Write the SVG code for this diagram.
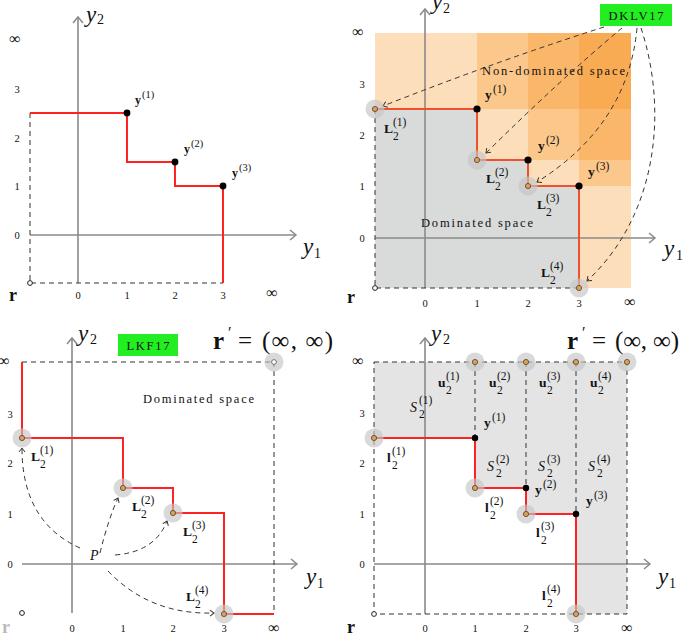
<svg xmlns="http://www.w3.org/2000/svg" width="685" height="633" viewBox="0 0 685 633">
<style>
text{font-family:"Liberation Serif","DejaVu Serif",serif;fill:#111}
.tk{font-size:10.5px;text-anchor:middle}
.inf{font-size:16px;text-anchor:middle}
.ax{font-style:italic;font-size:23px}
.axs{font-size:14px}
.b{font-weight:bold}
.lab{font-size:13.5px;font-weight:bold}
.lab1{font-size:12px;font-weight:bold}
.sup{font-size:11.5px}
.sup1{font-size:10.5px}
.it{font-style:italic;font-size:14px}
.sp{font-size:12.5px}
.axis{stroke:#8a8a8a;stroke-width:1.6;fill:none;marker-end:url(#ga)}
.red{stroke:#ff2222;stroke-width:2;fill:none}
.red2{stroke:#ee5030;stroke-width:2;fill:none}
.dash{stroke:#333;stroke-width:1;stroke-dasharray:5 4;fill:none}
.arr{stroke:#333;stroke-width:1;stroke-dasharray:5 4;fill:none;marker-end:url(#ka)}
.halo{fill:#c4c4c4;fill-opacity:0.65}
.pt{fill:#d9a05e;stroke:#5a4020;stroke-width:0.8}
.wp{fill:#fff;stroke:#666;stroke-width:0.9}
.blk{fill:#000}
.org{fill:#f7931e;fill-opacity:0.3}
.grn{fill:#22ee22}
</style>
<defs>
<marker id="ga" viewBox="-8 -6 10 12" markerWidth="10" markerHeight="12" refX="0" refY="0" orient="auto" markerUnits="userSpaceOnUse">
<path d="M-6,-5 L0,0 L-6,5" fill="none" stroke="#8a8a8a" stroke-width="1.5"/>
</marker>
<marker id="ka" viewBox="-6 -4 7 8" markerWidth="7" markerHeight="8" refX="0" refY="0" orient="auto" markerUnits="userSpaceOnUse">
<path d="M-4,-3 L0,0 L-4,3" fill="none" stroke="#333" stroke-width="1"/>
</marker>
</defs>
<rect width="685" height="633" fill="#fff"/>

<!-- Panel 1 -->
<g id="panel1">
<g id="p1-axes">
<path class="axis" d="M78 283 V17"/>
<path class="axis" d="M30 235 H296"/>
</g>
<g id="p1-connectors">
<path class="dash" d="M30 113 V283 H223"/>
<path class="red" d="M30 113 H127 V162 H175 V186 H223 V283"/>
</g>
<g id="p1-y1"><circle class="blk" cx="127" cy="113" r="3.4"/><text class="lab1" x="135" y="104">y</text><text class="sup1" x="142" y="98">(1)</text></g>
<g id="p1-y2"><circle class="blk" cx="175" cy="162" r="3.4"/><text class="lab1" x="184" y="153">y</text><text class="sup1" x="191" y="147">(2)</text></g>
<g id="p1-y3"><circle class="blk" cx="223" cy="186" r="3.4"/><text class="lab1" x="232" y="177">y</text><text class="sup1" x="239" y="171">(3)</text></g>
<g id="p1-r"><circle cx="30" cy="283" r="2.4" fill="#fff" stroke="#222" stroke-width="1"/><text class="b" font-size="18" x="9" y="301">r</text></g>
<g id="p1-labels">
<text class="ax" x="86" y="22">y</text><text class="axs" x="97" y="24">2</text>
<text class="ax" x="303" y="254">y</text><text class="axs" x="314" y="258">1</text>
<text class="inf" x="15" y="44">∞</text><text class="inf" x="272" y="298">∞</text>
<text class="tk" x="17" y="93">3</text><text class="tk" x="17" y="142">2</text><text class="tk" x="17" y="190">1</text><text class="tk" x="17" y="239">0</text>
<text class="tk" x="78" y="299">0</text><text class="tk" x="127" y="299">1</text><text class="tk" x="175" y="299">2</text><text class="tk" x="223" y="299">3</text>
</g>
</g>

<!-- Panel 2 -->
<g id="panel2">
<g id="p2-regions">
<rect class="org" x="375" y="33" width="256" height="255"/>
<rect class="org" x="477" y="33" width="154" height="76"/>
<rect class="org" x="528" y="33" width="103" height="127"/>
<rect class="org" x="579" y="33" width="52" height="153"/>
<path d="M375 109 H477 V160 H528 V186 H579 V288 H375 Z" fill="#d9dada"/>
</g>
<g id="p2-axes">
<path class="axis" d="M425 288 V9"/>
<path class="axis" d="M375 238 H655"/>
</g>
<g id="p2-connectors">
<path class="dash" d="M375 109 V288 H579"/>
<path class="red2" d="M375 109 H477 V160 H528 V186 H579 V288"/>
<path class="arr" d="M604 27 Q500 60 383 106"/>
<path class="arr" d="M622 28 Q562 78 486 153"/>
<path class="arr" d="M637 28 Q628 125 537 182"/>
<path class="arr" d="M641 28 C668 110 658 215 587 281"/>
</g>
<g id="p2-L1"><circle class="halo" cx="375" cy="109" r="9.5"/><circle class="pt" cx="375" cy="109" r="2.6"/><text class="lab" x="384" y="133">L</text><text class="sup" x="393" y="140">2</text><text class="sup" x="393" y="126">(1)</text></g>
<g id="p2-L2"><circle class="halo" cx="477" cy="160" r="9.5"/><circle class="pt" cx="477" cy="160" r="2.6"/><text class="lab" x="486" y="183">L</text><text class="sup" x="495" y="190">2</text><text class="sup" x="495" y="176">(2)</text></g>
<g id="p2-L3"><circle class="halo" cx="528" cy="186" r="9.5"/><circle class="pt" cx="528" cy="186" r="2.6"/><text class="lab" x="537" y="209">L</text><text class="sup" x="546" y="216">2</text><text class="sup" x="546" y="202">(3)</text></g>
<g id="p2-L4"><circle class="halo" cx="579" cy="288" r="9.5"/><circle class="pt" cx="579" cy="288" r="2.6"/><text class="lab" x="541" y="277">L</text><text class="sup" x="550" y="284">2</text><text class="sup" x="550" y="270">(4)</text></g>
<g id="p2-y1"><circle class="blk" cx="477" cy="109" r="3.6"/><text class="lab" x="485" y="99">y</text><text class="sup" x="493" y="93">(1)</text></g>
<g id="p2-y2"><circle class="blk" cx="528" cy="160" r="3.6"/><text class="lab" x="538" y="150">y</text><text class="sup" x="546" y="144">(2)</text></g>
<g id="p2-y3"><circle class="blk" cx="579" cy="186" r="3.6"/><text class="lab" x="588" y="176">y</text><text class="sup" x="596" y="170">(3)</text></g>
<g id="p2-r"><circle cx="375" cy="288" r="2.4" fill="#fff" stroke="#222" stroke-width="1"/><text class="b" font-size="18" x="347" y="303">r</text></g>
<g id="p2-DKLV17"><rect class="grn" x="600" y="4" width="72" height="22"/><text x="636" y="20" font-size="12.5" text-anchor="middle" textLength="55" lengthAdjust="spacing">DKLV17</text></g>
<g id="p2-labels">
<text class="sp" x="482" y="75" textLength="143" lengthAdjust="spacing">Non-dominated space</text>
<text class="sp" x="421" y="227" textLength="112" lengthAdjust="spacing">Dominated space</text>
<text class="ax" x="432" y="9">y</text><text class="axs" x="443" y="13">2</text>
<text class="ax" x="664" y="256">y</text><text class="axs" x="676" y="260">1</text>
<text class="inf" x="358" y="37">∞</text><text class="inf" x="630" y="307">∞</text>
<text class="tk" x="362" y="88">3</text><text class="tk" x="362" y="139">2</text><text class="tk" x="362" y="190">1</text><text class="tk" x="362" y="242">0</text>
<text class="tk" x="425" y="307">0</text><text class="tk" x="477" y="307">1</text><text class="tk" x="528" y="307">2</text><text class="tk" x="579" y="307">3</text>
</g>
</g>

<!-- Panel 3 -->
<g id="panel3">
<g id="p3-axes">
<path class="axis" d="M72 613 V338"/>
<path class="axis" d="M22 564 H297"/>
</g>
<g id="p3-connectors">
<path class="dash" d="M22 362 H274 V614"/>
<path class="red" d="M22 362 V438 H123 V488 H173 V513 H224 V614 H274"/>
<path class="arr" d="M80 548 Q22 522 22 448"/>
<path class="arr" d="M100 553 Q108 520 118 498"/>
<path class="arr" d="M115 555 Q155 552 167 521"/>
<path class="arr" d="M108 571 Q150 615 214 613"/>
</g>
<g id="p3-L1"><circle class="halo" cx="22" cy="438" r="9.5"/><circle class="pt" cx="22" cy="438" r="2.6"/><text class="lab" x="31" y="461">L</text><text class="sup" x="40" y="468">2</text><text class="sup" x="40" y="454">(1)</text></g>
<g id="p3-L2"><circle class="halo" cx="123" cy="488" r="9.5"/><circle class="pt" cx="123" cy="488" r="2.6"/><text class="lab" x="132" y="511">L</text><text class="sup" x="141" y="518">2</text><text class="sup" x="141" y="504">(2)</text></g>
<g id="p3-L3"><circle class="halo" cx="173" cy="513" r="9.5"/><circle class="pt" cx="173" cy="513" r="2.6"/><text class="lab" x="183" y="536">L</text><text class="sup" x="192" y="543">2</text><text class="sup" x="192" y="529">(3)</text></g>
<g id="p3-L4"><circle class="halo" cx="224" cy="614" r="9.5"/><circle class="pt" cx="224" cy="614" r="2.6"/><text class="lab" x="186" y="601">L</text><text class="sup" x="195" y="608">2</text><text class="sup" x="195" y="594">(4)</text></g>
<g id="p3-rprime"><circle class="halo" cx="274" cy="362" r="9.5"/><circle class="wp" cx="274" cy="362" r="2.4"/>
<text class="b" font-size="25" x="213" y="349">r</text><text font-size="16" x="228" y="338">′</text><text font-size="25" x="238" y="349">=</text><text font-size="25" x="262" y="349" textLength="71" lengthAdjust="spacing">(∞, ∞)</text></g>
<g id="p3-r"><circle cx="22" cy="613" r="2.4" fill="#fff" stroke="#222" stroke-width="1"/><text class="b" font-size="18" x="2" y="633" style="fill:#bbb">r</text></g>
<g id="p3-P"><text x="90" y="560" font-size="14" font-style="italic">P</text></g>
<g id="p3-LKF17"><rect class="grn" x="118" y="334" width="60" height="22"/><text x="148" y="350" font-size="12.5" text-anchor="middle" textLength="43" lengthAdjust="spacing">LKF17</text></g>
<g id="p3-labels">
<text class="sp" x="143" y="403" textLength="111" lengthAdjust="spacing">Dominated space</text>
<text class="ax" x="78" y="341">y</text><text class="axs" x="90" y="344">2</text>
<text class="ax" x="306" y="584">y</text><text class="axs" x="317" y="588">1</text>
<text class="inf" x="4" y="366">∞</text><text class="inf" x="274" y="633">∞</text>
<text class="tk" x="10" y="418">3</text><text class="tk" x="10" y="467">2</text><text class="tk" x="10" y="518">1</text><text class="tk" x="10" y="568">0</text>
<text class="tk" x="72" y="632">0</text><text class="tk" x="123" y="632">1</text><text class="tk" x="173" y="632">2</text><text class="tk" x="224" y="632">3</text>
</g>
</g>

<!-- Panel 4 -->
<g id="panel4">
<g id="p4-regions">
<path d="M374 362 H627 V614 H576 V514 H526 V488 H475 V438 H374 Z" fill="#e4e4e4"/>
</g>
<g id="p4-axes">
<path class="axis" d="M425 614 V338"/>
<path class="axis" d="M374 564 H650"/>
</g>
<g id="p4-connectors">
<path class="dash" d="M374 362 H627 V614 H374 Z"/>
<path class="dash" d="M475 362 V438 M526 362 V488 M576 362 V514"/>
<path class="red" d="M374 438 H475 V488 H526 V514 H576 V614"/>
</g>
<g id="p4-l1"><circle class="halo" cx="374" cy="438" r="9.5"/><circle class="pt" cx="374" cy="438" r="2.6"/><text class="lab" x="387" y="462">l</text><text class="sup" x="392" y="469">2</text><text class="sup" x="392" y="455">(1)</text></g>
<g id="p4-l2"><circle class="halo" cx="475" cy="488" r="9.5"/><circle class="pt" cx="475" cy="488" r="2.6"/><text class="lab" x="485" y="512">l</text><text class="sup" x="490" y="519">2</text><text class="sup" x="490" y="505">(2)</text></g>
<g id="p4-l3"><circle class="halo" cx="526" cy="514" r="9.5"/><circle class="pt" cx="526" cy="514" r="2.6"/><text class="lab" x="536" y="537">l</text><text class="sup" x="541" y="544">2</text><text class="sup" x="541" y="530">(3)</text></g>
<g id="p4-l4"><circle class="halo" cx="576" cy="614" r="9.5"/><circle class="pt" cx="576" cy="614" r="2.6"/><text class="lab" x="542" y="600">l</text><text class="sup" x="547" y="607">2</text><text class="sup" x="547" y="593">(4)</text></g>
<g id="p4-u1"><circle class="halo" cx="475" cy="362" r="9.5"/><circle class="pt" cx="475" cy="362" r="2.6"/><text class="lab" x="438" y="387">u</text><text class="sup" x="446" y="394">2</text><text class="sup" x="446" y="380">(1)</text></g>
<g id="p4-u2"><circle class="halo" cx="526" cy="362" r="9.5"/><circle class="pt" cx="526" cy="362" r="2.6"/><text class="lab" x="489" y="387">u</text><text class="sup" x="497" y="394">2</text><text class="sup" x="497" y="380">(2)</text></g>
<g id="p4-u3"><circle class="halo" cx="576" cy="362" r="9.5"/><circle class="pt" cx="576" cy="362" r="2.6"/><text class="lab" x="539" y="387">u</text><text class="sup" x="547" y="394">2</text><text class="sup" x="547" y="380">(3)</text></g>
<g id="p4-u4"><circle class="halo" cx="627" cy="362" r="9.5"/><circle class="pt" cx="627" cy="362" r="2.6"/><text class="lab" x="590" y="387">u</text><text class="sup" x="598" y="394">2</text><text class="sup" x="598" y="380">(4)</text></g>
<g id="p4-y1"><circle class="blk" cx="475" cy="438" r="3.2"/><text class="lab" x="484" y="427">y</text><text class="sup" x="492" y="421">(1)</text></g>
<g id="p4-y2"><circle class="blk" cx="526" cy="488" r="3.2"/><text class="lab" x="535" y="494">y</text><text class="sup" x="543" y="488">(2)</text></g>
<g id="p4-y3"><circle class="blk" cx="576" cy="514" r="3.2"/><text class="lab" x="586" y="505">y</text><text class="sup" x="594" y="499">(3)</text></g>
<g id="p4-S">
<text class="it" x="410" y="412">S</text><text class="sup" x="419" y="418">2</text><text class="sup" x="419" y="404">(1)</text>
<text class="it" x="487" y="471">S</text><text class="sup" x="496" y="477">2</text><text class="sup" x="496" y="463">(2)</text>
<text class="it" x="538" y="471">S</text><text class="sup" x="547" y="477">2</text><text class="sup" x="547" y="463">(3)</text>
<text class="it" x="588" y="471">S</text><text class="sup" x="597" y="477">2</text><text class="sup" x="597" y="463">(4)</text>
</g>
<g id="p4-rprime"><text class="b" font-size="25" x="567" y="349">r</text><text font-size="16" x="582" y="338">′</text><text font-size="25" x="592" y="349">=</text><text font-size="25" x="615" y="349" textLength="64" lengthAdjust="spacing">(∞, ∞)</text></g>
<g id="p4-r"><circle cx="374" cy="614" r="2.4" fill="#fff" stroke="#222" stroke-width="1"/><text class="b" font-size="18" x="347" y="633">r</text></g>
<g id="p4-labels">
<text class="ax" x="431" y="341">y</text><text class="axs" x="443" y="344">2</text>
<text class="ax" x="658" y="584">y</text><text class="axs" x="669" y="588">1</text>
<text class="inf" x="358" y="366">∞</text><text class="inf" x="627" y="633">∞</text>
<text class="tk" x="362" y="417">3</text><text class="tk" x="362" y="467">2</text><text class="tk" x="362" y="518">1</text><text class="tk" x="362" y="568">0</text>
<text class="tk" x="425" y="632">0</text><text class="tk" x="475" y="632">1</text><text class="tk" x="526" y="632">2</text><text class="tk" x="576" y="632">3</text>
</g>
</g>
</svg>
